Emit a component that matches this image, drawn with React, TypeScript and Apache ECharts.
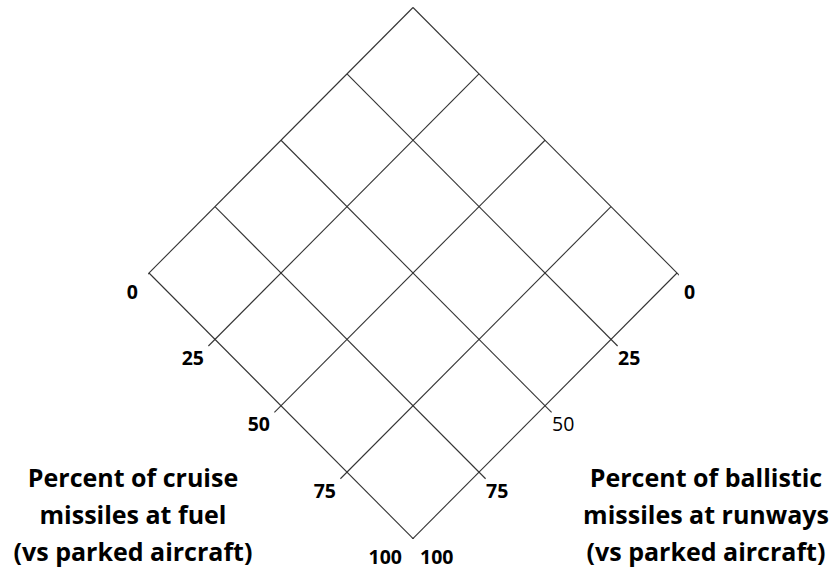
import React, { useEffect, useRef } from "react";
import * as echarts from "echarts";

// Tick values along both lower edges of the diamond
const ticks = [0, 25, 50, 75, 100];
const cruiseTickLabels = ["0", "25", "50", "75", "100"];
const ballisticTickLabels = ["0", "25", "50", "75", "100"];
const cruiseTitle = ["Percent of cruise", "missiles at fuel", "(vs parked aircraft)"];
const ballisticTitle = ["Percent of ballistic", "missiles at runways", "(vs parked aircraft)"];

// a = cruise %, b = ballistic %; rotate into (u, v)
const toUV = (a: number, b: number) => [a - b, a + b];
const EXT = 2.5; // tick overhang past the lower edges

export default function App() {
  const ref = useRef<HTMLDivElement>(null);
  useEffect(() => {
    document.body.style.margin = "0";
    const chart = echarts.init(ref.current!, undefined, { renderer: "svg" });
    const lineStyle = { color: "#333333", width: 1.1 };
    const series: any[] = [];
    ticks.forEach((t) => {
      series.push({
        type: "line",
        silent: true,
        symbol: "none",
        lineStyle,
        data: [toUV(t, 0), toUV(t, 100 + EXT)],
      });
      series.push({
        type: "line",
        silent: true,
        symbol: "none",
        lineStyle,
        data: [toUV(0, t), toUV(100 + EXT, t)],
      });
    });
    const labelFont = {
      fontFamily: "Open Sans",
      fontWeight: "bold" as const,
      fontSize: 19.5,
      color: "#000",
      opacity: 1,
      textBorderWidth: 0,
    };
    series.push({
      type: "scatter",
      silent: true,
      symbolSize: 0,
      itemStyle: { opacity: 1 },
      data: ticks.map((t, i) => ({ value: toUV(t, 100), name: cruiseTickLabels[i] })),
      label: {
        show: true,
        formatter: (p: any) => p.name,
        position: [-11, 18],
        align: "right",
        verticalAlign: "middle",
        ...labelFont,
      },
    });
    series.push({
      type: "scatter",
      silent: true,
      symbolSize: 0,
      itemStyle: { opacity: 1 },
      data: ticks.map((t, i) => ({
        value: toUV(100, t),
        name: ballisticTickLabels[i],
        label: t === 50 ? { ...labelFont, fontWeight: "normal" } : undefined,
      })),
      label: {
        show: true,
        formatter: (p: any) => p.name,
        position: [7, 18],
        align: "left",
        verticalAlign: "middle",
        ...labelFont,
      },
    });
    const titleStyle = {
      fontFamily: "Open Sans",
      fontWeight: "bold",
      fontSize: 25,
      lineHeight: 37,
      fill: "#000",
      textAlign: "center",
      textVerticalAlign: "top",
    };
    chart.setOption({
      animation: false,
      grid: { left: 149, right: 157, top: 7.5, bottom: 30.5 },
      xAxis: { type: "value", min: -100, max: 100, show: false },
      yAxis: { type: "value", min: 0, max: 200, inverse: true, show: false },
      series,
      graphic: [
        { type: "text", x: 133, y: 458, style: { ...titleStyle, text: cruiseTitle.join("\n") } },
        { type: "text", x: 706, y: 458, style: { ...titleStyle, text: ballisticTitle.join("\n") } },
      ],
    });
    return () => chart.dispose();
  }, []);
  return <div ref={ref} style={{ width: 834, height: 569 }} />;
}
